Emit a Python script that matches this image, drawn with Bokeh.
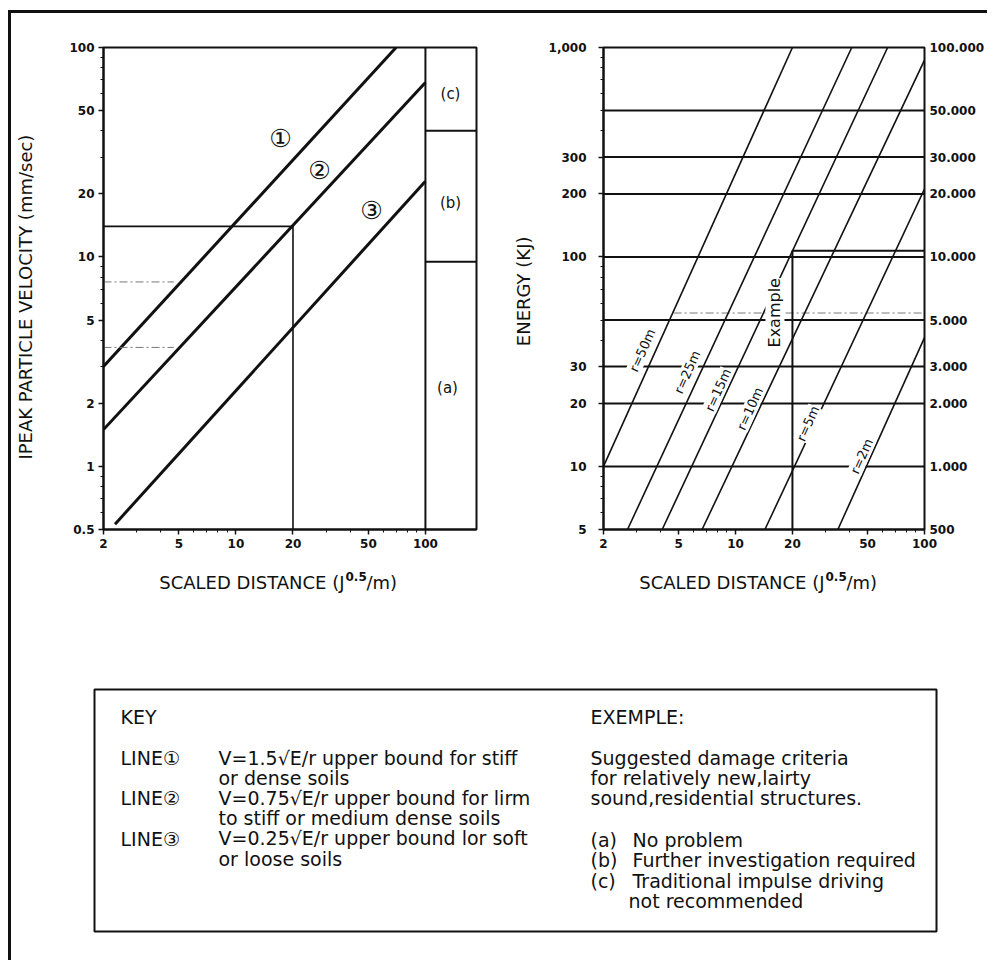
import math
from bokeh.plotting import figure
from bokeh.models import Range1d, FixedTicker, LogAxis, LogScale, Label
from bokeh.layouts import column, row
from bokeh.embed import file_html
from bokeh.resources import INLINE
from bokeh.core.properties import value

# ---------------- data: left chart (peak particle velocity) ----------------
line_names = ["①", "②", "③"]
line_sd = [[2, 70], [2, 100], [2.3, 100]]          # scaled distance end points
line_ppv = [[3, 100], [1.5, 68], [0.53, 23]]       # velocity end points (mm/sec)
example_sd = [2, 20, 20]
example_ppv = [14, 14, 0.5]
guide_ppv = [7.6, 3.7]
guide_sd = [2, 4.7]
zone_limit_sd = 100
zone_bounds_ppv = [9.5, 40]
zone_labels = ["(a)", "(b)", "(c)"]
ppv_ticks = [0.5, 1, 2, 5, 10, 20, 50, 100]
ppv_labels = ["0.5", "1", "2", "5", "10", "20", "50", "100"]
ppv_minor = [0.6, 0.7, 0.8, 0.9, 3, 4, 6, 7, 8, 9, 30, 40, 60, 70, 80, 90]
sd_ticks = [2, 5, 10, 20, 50, 100]
sd_labels = ["2", "5", "10", "20", "50", "100"]
sd_minor = [3, 4, 6, 7, 8, 9, 30, 40, 60, 70, 80, 90]

# ---------------- data: right chart (energy) ----------------
energy_levels = [500, 300, 200, 100, 50, 30, 20, 10]
r_names = ["r=50m", "r=25m", "r=15m", "r=10m", "r=5m", "r=2m"]
r_sd = [[2, 20], [2.68, 41.2], [4.09, 63.8], [6.65, 100], [14.3, 100], [34.8, 100]]
r_energy = [[10, 1000], [5, 1000], [5, 1000], [5, 870], [5, 211], [5, 41.2]]
example_box_sd = [20, 20, 100]
example_box_e = [5, 107, 107]
guide_e = 54
guide_e_sd = [4.7, 100]
energy_ticks = [5, 10, 20, 30, 100, 200, 300, 1000]
energy_labels = ["5", "10", "20", "30", "100", "200", "300", "1,000"]
energy_minor = [6, 7, 8, 9, 40, 50, 60, 70, 80, 90, 400, 500, 600, 700, 800, 900]
joule_ticks = [500, 1000, 2000, 3000, 5000, 10000, 20000, 30000, 50000, 100000]
joule_labels = ["500", "1.000", "2.000", "3.000", "5.000", "10.000", "20.000",
                "30.000", "50.000", "100.000"]

# ---------------- titles and key texts ----------------
x_title = ["SCALED DISTANCE (J", "0.5", "/m)"]
key_lines = ["LINE①", "LINE②", "LINE③"]
key_desc = ["V=1.5√E/r upper bound for stiff", "or dense soils",
            "V=0.75√E/r upper bound for lirm", "to stiff or medium dense soils",
            "V=0.25√E/r upper bound lor soft", "or loose soils"]
ex_desc = ["Suggested damage criteria", "for relatively new,lairty",
           "sound,residential structures."]
ex_items = ["No problem", "Further investigation required",
            "Traditional impulse driving", "not recommended"]

INK = "#111111"
FONT = "DejaVu Sans"

# ---------------- layout geometry ----------------
XR_L, YR_L = (2, 186), (0.5, 100)
XR_R, YR_R = (2, 100), (5, 1000)
WL, HL = 373, 482
WR, HR = 322, 487
ROW_H = 555


def to_x(rng, w, px):
    a, b = math.log10(rng[0]), math.log10(rng[1])
    return 10 ** (a + px / w * (b - a))


def to_y(rng, h, py):
    a, b = math.log10(rng[0]), math.log10(rng[1])
    return 10 ** (b - py / h * (b - a))


def style_axis(ax, ticks, labels, minor, tick_out=5):
    ax.ticker = FixedTicker(ticks=ticks, minor_ticks=minor)
    ax.major_label_overrides = {t: l for t, l in zip(ticks, labels)}
    ax.major_label_text_font = FONT
    ax.major_label_text_font_style = "bold"
    ax.major_label_text_font_size = "12px"
    ax.major_label_text_color = INK
    ax.axis_line_color = INK
    ax.axis_line_width = 2
    ax.major_tick_line_color = INK
    ax.major_tick_line_width = 1.5
    ax.minor_tick_line_color = INK
    ax.major_tick_in = 0
    ax.major_tick_out = tick_out
    ax.minor_tick_in = 0
    ax.minor_tick_out = 3
    ax.major_label_standoff = 4
    ax.axis_label_text_font = FONT
    ax.axis_label_text_font_style = "normal"
    ax.axis_label_text_font_size = "18px"
    ax.axis_label_text_color = INK


def make_fig(w, h, xr, yr, ml, mr, mt, mb):
    p = figure(width=w, height=h, x_axis_type="log", y_axis_type="log",
               x_range=Range1d(*xr), y_range=Range1d(*yr),
               output_backend="svg", toolbar_location=None,
               min_border_left=ml, min_border_right=mr,
               min_border_top=mt, min_border_bottom=mb)
    p.xgrid.visible = False
    p.ygrid.visible = False
    p.outline_line_color = INK
    p.outline_line_width = 2
    p.outline_line_alpha = 1
    p.background_fill_color = "white"
    p.border_fill_color = "white"
    return p


def add_label(p, xr, yr, w, h, px, py, text, size, angle=0.0, bg=None,
              align="center", style="normal"):
    lab = Label(x=to_x(xr, w, px), y=to_y(yr, h, py), text=text,
                text_font=FONT, text_font_size=f"{size}px", text_color=INK,
                text_align=align, text_baseline="middle", angle=angle,
                text_font_style=style, background_fill_color=bg)
    p.add_layout(lab)


# ================= left chart =================
pL = make_fig(489, ROW_H, XR_L, YR_L, 92, 24, 34, ROW_H - 34 - HL)
style_axis(pL.xaxis[0], sd_ticks, sd_labels, sd_minor)
style_axis(pL.yaxis[0], ppv_ticks, ppv_labels, ppv_minor)
pL.yaxis[0].axis_label = "IPEAK PARTICLE VELOCITY    (mm/sec)"
pL.yaxis[0].axis_label_standoff = 30

pL.multi_line(xs=line_sd, ys=line_ppv, line_color=INK, line_width=3)
pL.line(example_sd, example_ppv, line_color=INK, line_width=1.6)
for g in guide_ppv:
    pL.line(guide_sd, [g, g], line_color="#777777", line_width=1,
            line_dash="8 3 2 3")
pL.line([zone_limit_sd, zone_limit_sd], list(YR_L), line_color=INK, line_width=2)
for b in zone_bounds_ppv:
    pL.line([zone_limit_sd, XR_L[1]], [b, b], line_color=INK, line_width=2)

for name, (px, py) in zip(line_names, [(177, 91), (216, 123), (268, 163)]):
    add_label(pL, XR_L, YR_L, WL, HL, px, py, name, 25)
for name, (px, py) in zip(zone_labels, [(344, 340), (347, 155), (347, 46)]):
    add_label(pL, XR_L, YR_L, WL, HL, px, py, name, 15)

# ================= right chart =================
pR = make_fig(487, ROW_H, XR_R, YR_R, 103, 62, 29, ROW_H - 29 - HR)
style_axis(pR.xaxis[0], sd_ticks, sd_labels, sd_minor)
style_axis(pR.yaxis[0], energy_ticks, energy_labels, energy_minor)
pR.yaxis[0].major_label_standoff = 12
pR.yaxis[0].axis_label = "ENERGY  (KJ)"
pR.yaxis[0].axis_label_standoff = 12
pR.extra_y_ranges = {"joule": Range1d(joule_ticks[0], joule_ticks[-1])}
pR.extra_y_scales = {"joule": LogScale()}
jax = LogAxis(y_range_name="joule")
style_axis(jax, joule_ticks, joule_labels, [], tick_out=0)
jax.axis_line_color = None
jax.minor_tick_line_color = None
jax.major_label_standoff = 5
pR.add_layout(jax, "right")

for e in energy_levels:
    pR.line(list(XR_R), [e, e], line_color=INK, line_width=2)
pR.line(guide_e_sd, [guide_e, guide_e], line_color="#777777", line_width=1,
        line_dash="8 3 2 3")
pR.multi_line(xs=r_sd, ys=r_energy, line_color=INK, line_width=1.6)
pR.line(example_box_sd, example_box_e, line_color=INK, line_width=2)

r_pos = [(39, 306), (84, 328), (115, 346), (147, 365), (205, 380), (259, 413)]
r_angle = math.atan(2 * (HR / math.log10(YR_R[1] / YR_R[0])) /
                    (WR / math.log10(XR_R[1] / XR_R[0])))
for name, (px, py) in zip(r_names, r_pos):
    add_label(pR, XR_R, YR_R, WR, HR, px, py, name, 13, angle=r_angle, bg="white")
add_label(pR, XR_R, YR_R, WR, HR, 172, 268, "Example", 16, angle=math.pi / 2, bg="white")

# ================= bottom panel: x titles and key =================
KW, KH = 976, 392
pK = figure(width=KW, height=KH, x_range=Range1d(0, KW), y_range=Range1d(KH, 0),
            output_backend="svg", toolbar_location=None,
            x_axis_location=None, y_axis_location=None, min_border=0)
pK.xgrid.visible = False
pK.ygrid.visible = False
pK.outline_line_color = None
pK.background_fill_color = "white"
pK.border_fill_color = "white"

# x-axis titles (with raised exponent) under each chart
for xj in [333, 813]:
    pK.text(x=[xj], y=[14], text=[x_title[0]], text_font=value(FONT),
            text_font_size="18px", text_color=INK, text_baseline="middle",
            text_align="right")
    pK.text(x=[xj + 1], y=[8], text=[x_title[1]], text_font=value(FONT),
            text_font_size="12px", text_font_style="bold", text_color=INK,
            text_baseline="middle", text_align="left")
    pK.text(x=[xj + 22], y=[14], text=[x_title[2]], text_font=value(FONT),
            text_font_size="18px", text_color=INK, text_baseline="middle",
            text_align="left")

pK.quad(left=[83], right=[925], top=[121], bottom=[363], fill_color=None,
        line_color=INK, line_width=2)

txt = dict(text_font=value(FONT), text_font_size="19px", text_color=INK,
           text_baseline="middle", text_align="left")
pK.text(x=[109], y=[148], text=["KEY"], **txt)
pK.text(x=[109] * 3, y=[189 + 40.5 * i for i in range(3)], text=key_lines, **txt)
pK.text(x=[207] * 6, y=[189 + 20.2 * i for i in range(6)], text=key_desc, **txt)
pK.text(x=[579], y=[148], text=["EXEMPLE:"], **txt)
pK.text(x=[579] * 3, y=[189 + 20 * i for i in range(3)], text=ex_desc, **txt)
pK.text(x=[579] * 3, y=[271 + 20.5 * i for i in range(3)], text=zone_labels, **txt)
pK.text(x=[621] * 3 + [617], y=[271 + 20.5 * i for i in range(4)], text=ex_items, **txt)

layout = column(row(pL, pR), pK,
                styles={"border-left": "3px solid #111111",
                        "border-top": "3px solid #111111",
                        "margin-left": "8px", "margin-top": "10px"})

open("out.html", "w").write(file_html(layout, INLINE))
